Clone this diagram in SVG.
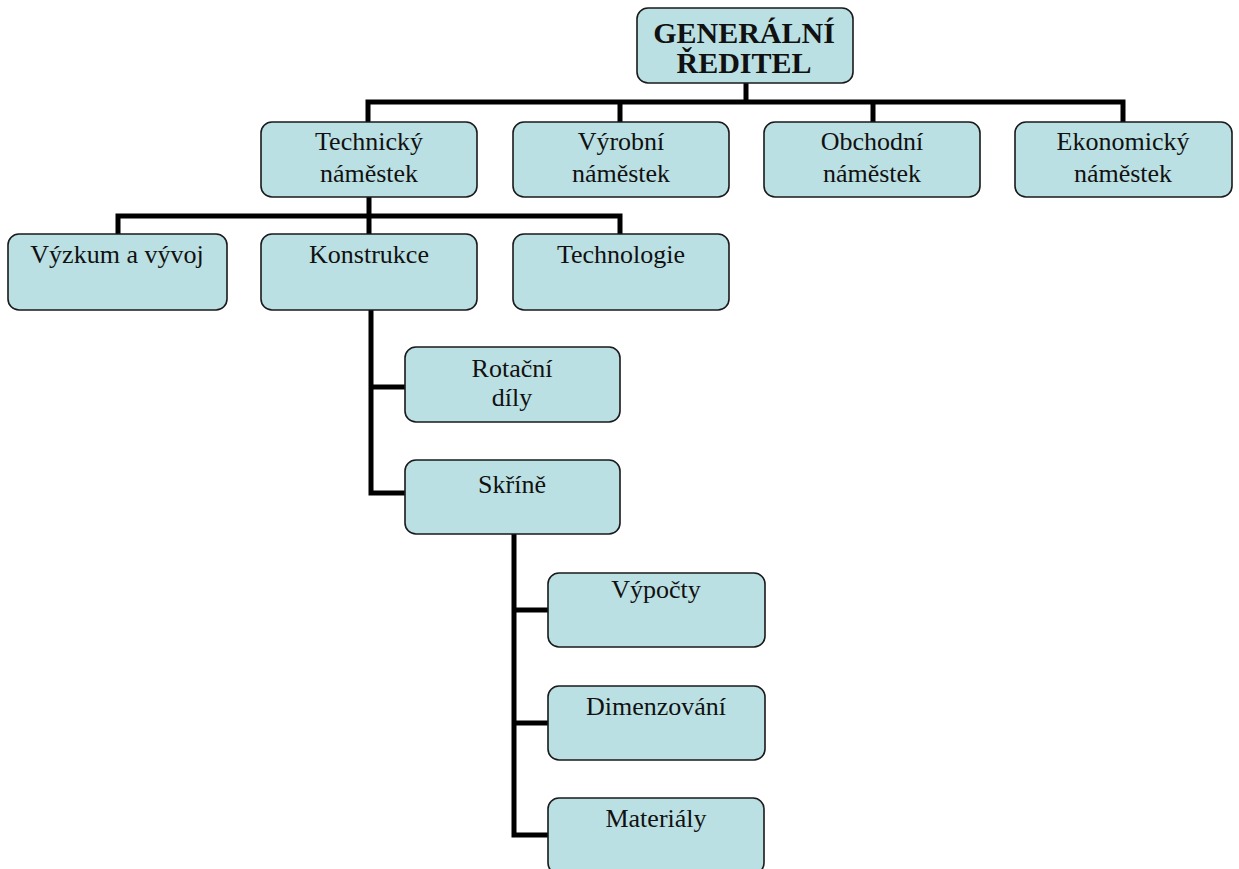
<svg xmlns="http://www.w3.org/2000/svg" width="1239" height="869" viewBox="0 0 1239 869">
  <style>
    .box { fill: #bbe0e3; stroke: #1a1a1a; stroke-width: 1.6; }
    .lbl { font-family: "Liberation Serif", "Times New Roman", serif; font-size: 26px; fill: #111; text-anchor: middle; }
    .title { font-family: "Liberation Serif", "Times New Roman", serif; font-size: 30px; font-weight: bold; fill: #111; text-anchor: middle; }
    .wire { fill: none; stroke: #000; stroke-width: 5; stroke-linejoin: miter; stroke-linecap: butt; }
  </style>
  <rect width="1239" height="869" fill="#fff"/>

  <!-- connectors -->
  <g id="connectors">
    <path class="wire" d="M746 83 V102"/>
    <path class="wire" d="M368 122 V102 H1123 V122"/>
    <path class="wire" d="M620 102 V122"/>
    <path class="wire" d="M873 102 V122"/>
    <path class="wire" d="M369 197 V234"/>
    <path class="wire" d="M118 234 V216 H620 V234"/>
    <path class="wire" d="M371 310 V493 H405"/>
    <path class="wire" d="M371 387 H405"/>
    <path class="wire" d="M514 534 V835 H548"/>
    <path class="wire" d="M514 610 H548"/>
    <path class="wire" d="M514 723 H548"/>
  </g>

  <g id="generalni-reditel">
    <rect class="box" x="637" y="8" width="216" height="75" rx="11"/>
    <text class="title" x="744" y="43">GENERÁLNÍ</text>
    <text class="title" x="744" y="73">ŘEDITEL</text>
  </g>

  <g id="technicky-namestek">
    <rect class="box" x="261" y="122" width="216" height="75" rx="11"/>
    <text class="lbl" x="369" y="150">Technický</text>
    <text class="lbl" x="369" y="182">náměstek</text>
  </g>
  <g id="vyrobni-namestek">
    <rect class="box" x="513" y="122" width="216" height="75" rx="11"/>
    <text class="lbl" x="621" y="150">Výrobní</text>
    <text class="lbl" x="621" y="182">náměstek</text>
  </g>
  <g id="obchodni-namestek">
    <rect class="box" x="764" y="122" width="216" height="75" rx="11"/>
    <text class="lbl" x="872" y="150">Obchodní</text>
    <text class="lbl" x="872" y="182">náměstek</text>
  </g>
  <g id="ekonomicky-namestek">
    <rect class="box" x="1015" y="122" width="217" height="75" rx="11"/>
    <text class="lbl" x="1123" y="150">Ekonomický</text>
    <text class="lbl" x="1123" y="182">náměstek</text>
  </g>

  <g id="vyzkum-a-vyvoj">
    <rect class="box" x="8" y="234" width="219" height="76" rx="11"/>
    <text class="lbl" x="117" y="263">Výzkum a vývoj</text>
  </g>
  <g id="konstrukce">
    <rect class="box" x="261" y="234" width="216" height="76" rx="11"/>
    <text class="lbl" x="369" y="263">Konstrukce</text>
  </g>
  <g id="technologie">
    <rect class="box" x="513" y="234" width="216" height="76" rx="11"/>
    <text class="lbl" x="621" y="263">Technologie</text>
  </g>

  <g id="rotacni-dily">
    <rect class="box" x="405" y="347" width="215" height="75" rx="11"/>
    <text class="lbl" x="512" y="377">Rotační</text>
    <text class="lbl" x="512" y="406">díly</text>
  </g>
  <g id="skrine">
    <rect class="box" x="405" y="460" width="215" height="74" rx="11"/>
    <text class="lbl" x="512" y="493">Skříně</text>
  </g>

  <g id="vypocty">
    <rect class="box" x="548" y="573" width="217" height="74" rx="11"/>
    <text class="lbl" x="656" y="598">Výpočty</text>
  </g>
  <g id="dimenzovani">
    <rect class="box" x="548" y="686" width="217" height="74" rx="11"/>
    <text class="lbl" x="656" y="715">Dimenzování</text>
  </g>
  <g id="materialy">
    <rect class="box" x="548" y="798" width="216" height="76" rx="11"/>
    <text class="lbl" x="656" y="827">Materiály</text>
  </g>
</svg>
